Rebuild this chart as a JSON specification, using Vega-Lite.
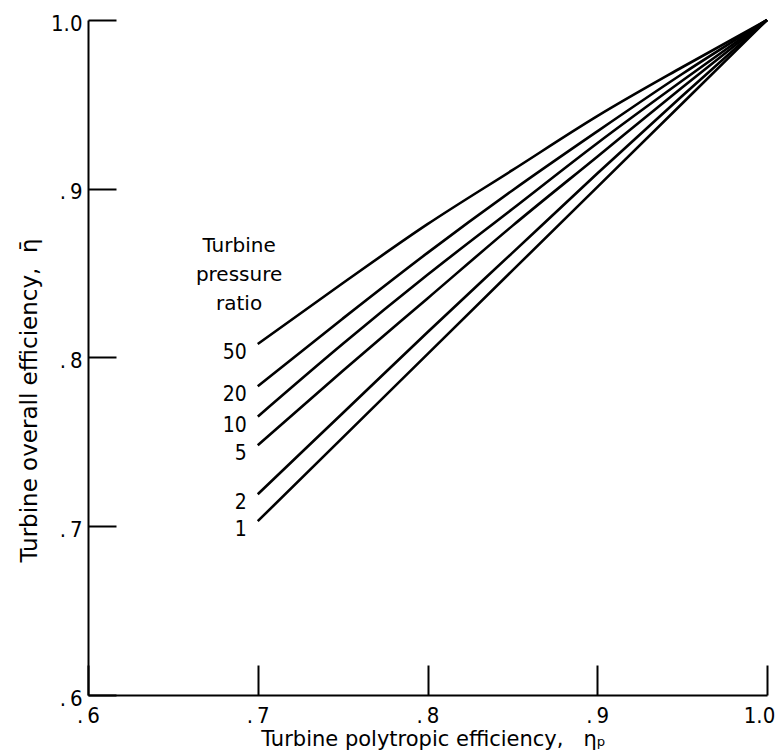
{
  "$schema": "https://vega.github.io/schema/vega-lite/v6.json",
  "width": 679,
  "height": 675,
  "autosize": {"type": "none"},
  "padding": {"left": 88, "top": 20, "right": 13, "bottom": 58},
  "background": "white",
  "config": {
    "view": {"stroke": null},
    "font": "DejaVu Sans",
    "axis": {
      "domainColor": "black",
      "domainWidth": 2,
      "tickColor": "black",
      "tickWidth": 2,
      "grid": false,
      "labelColor": "black",
      "labelFontSize": 22,
      "labelFont": "DejaVu Sans Condensed, DejaVu Sans",
      "labelFlush": false,
      "titleColor": "black",
      "titleFontWeight": "normal",
      "titleFont": "DejaVu Sans"
    }
  },
  "datasets": {
    "curves": [
      {"ratio": "50", "eta_p": 0.7, "eta": 0.808},
      {"ratio": "50", "eta_p": 0.75, "eta": 0.844},
      {"ratio": "50", "eta_p": 0.8, "eta": 0.879},
      {"ratio": "50", "eta_p": 0.85, "eta": 0.911},
      {"ratio": "50", "eta_p": 0.9, "eta": 0.943},
      {"ratio": "50", "eta_p": 0.95, "eta": 0.972},
      {"ratio": "50", "eta_p": 1.0, "eta": 1.0},
      {"ratio": "20", "eta_p": 0.7, "eta": 0.783},
      {"ratio": "20", "eta_p": 0.75, "eta": 0.823},
      {"ratio": "20", "eta_p": 0.8, "eta": 0.862},
      {"ratio": "20", "eta_p": 0.85, "eta": 0.899},
      {"ratio": "20", "eta_p": 0.9, "eta": 0.934},
      {"ratio": "20", "eta_p": 0.95, "eta": 0.968},
      {"ratio": "20", "eta_p": 1.0, "eta": 1.0},
      {"ratio": "10", "eta_p": 0.7, "eta": 0.765},
      {"ratio": "10", "eta_p": 0.75, "eta": 0.808},
      {"ratio": "10", "eta_p": 0.8, "eta": 0.849},
      {"ratio": "10", "eta_p": 0.85, "eta": 0.888},
      {"ratio": "10", "eta_p": 0.9, "eta": 0.927},
      {"ratio": "10", "eta_p": 0.95, "eta": 0.964},
      {"ratio": "10", "eta_p": 1.0, "eta": 1.0},
      {"ratio": "5", "eta_p": 0.7, "eta": 0.748},
      {"ratio": "5", "eta_p": 0.75, "eta": 0.792},
      {"ratio": "5", "eta_p": 0.8, "eta": 0.835},
      {"ratio": "5", "eta_p": 0.85, "eta": 0.878},
      {"ratio": "5", "eta_p": 0.9, "eta": 0.919},
      {"ratio": "5", "eta_p": 0.95, "eta": 0.96},
      {"ratio": "5", "eta_p": 1.0, "eta": 1.0},
      {"ratio": "2", "eta_p": 0.7, "eta": 0.719},
      {"ratio": "2", "eta_p": 0.75, "eta": 0.767},
      {"ratio": "2", "eta_p": 0.8, "eta": 0.815},
      {"ratio": "2", "eta_p": 0.85, "eta": 0.862},
      {"ratio": "2", "eta_p": 0.9, "eta": 0.909},
      {"ratio": "2", "eta_p": 0.95, "eta": 0.955},
      {"ratio": "2", "eta_p": 1.0, "eta": 1.0},
      {"ratio": "1", "eta_p": 0.7, "eta": 0.703},
      {"ratio": "1", "eta_p": 0.8, "eta": 0.802},
      {"ratio": "1", "eta_p": 0.9, "eta": 0.901},
      {"ratio": "1", "eta_p": 1.0, "eta": 1.0}
    ],
    "note": [
      {"text": "Turbine\npressure\nratio", "eta_p": 0.689, "eta": 0.872}
    ]
  },
  "layer": [
    {
      "data": {"name": "curves"},
      "mark": {"type": "line", "color": "black", "strokeWidth": 2.6, "interpolate": "monotone"},
      "encoding": {
        "x": {
          "field": "eta_p",
          "type": "quantitative",
          "scale": {"domain": [0.6, 1.0], "nice": false},
          "axis": {
            "values": [0.6, 0.7, 0.8, 0.9, 1.0],
            "tickSize": -30,
            "labelPadding": 40,
            "labelOffset": {"condition": {"test": "datum.value > 0.99", "value": -8}, "value": 0},
            "labelExpr": "datum.value < 0.99 ? '.\u2009' + format(datum.value * 10, 'd') : '1.0'",
            "title": "Turbine polytropic efficiency,\u00a0\u00a0\u00a0ηₚ",
            "titleFontSize": 21,
            "titleX": 345,
            "titleY": 50,
            "titleBaseline": "alphabetic"
          }
        },
        "y": {
          "field": "eta",
          "type": "quantitative",
          "scale": {"domain": [0.6, 1.0], "nice": false, "zero": false},
          "axis": {
            "values": [0.6, 0.7, 0.8, 0.9, 1.0],
            "tickSize": -28,
            "labelPadding": 34,
            "labelOffset": 3,
            "labelExpr": "datum.value < 0.99 ? '.\u2009' + format(datum.value * 10, 'd') : '1.0'",
            "title": "Turbine overall efficiency,\u00a0\u00a0η\u0304",
            "titleFontSize": 23,
            "titleX": -59,
            "titleY": 380,
            "titleBaseline": "middle"
          }
        },
        "detail": {"field": "ratio"}
      }
    },
    {
      "data": {"name": "curves"},
      "transform": [{"filter": "datum.eta_p == 0.7"}],
      "mark": {"type": "text", "align": "right", "baseline": "middle", "dx": -11, "dy": 9, "fontSize": 21, "font": "DejaVu Sans Condensed, DejaVu Sans", "color": "black"},
      "encoding": {
        "x": {"field": "eta_p", "type": "quantitative"},
        "y": {"field": "eta", "type": "quantitative"},
        "text": {"field": "ratio"}
      }
    },
    {
      "data": {"name": "note"},
      "mark": {"type": "text", "align": "center", "baseline": "top", "lineBreak": "\n", "lineHeight": 29, "fontSize": 20, "font": "DejaVu Sans", "color": "black"},
      "encoding": {
        "x": {"field": "eta_p", "type": "quantitative"},
        "y": {"field": "eta", "type": "quantitative"},
        "text": {"field": "text"}
      }
    }
  ]
}
